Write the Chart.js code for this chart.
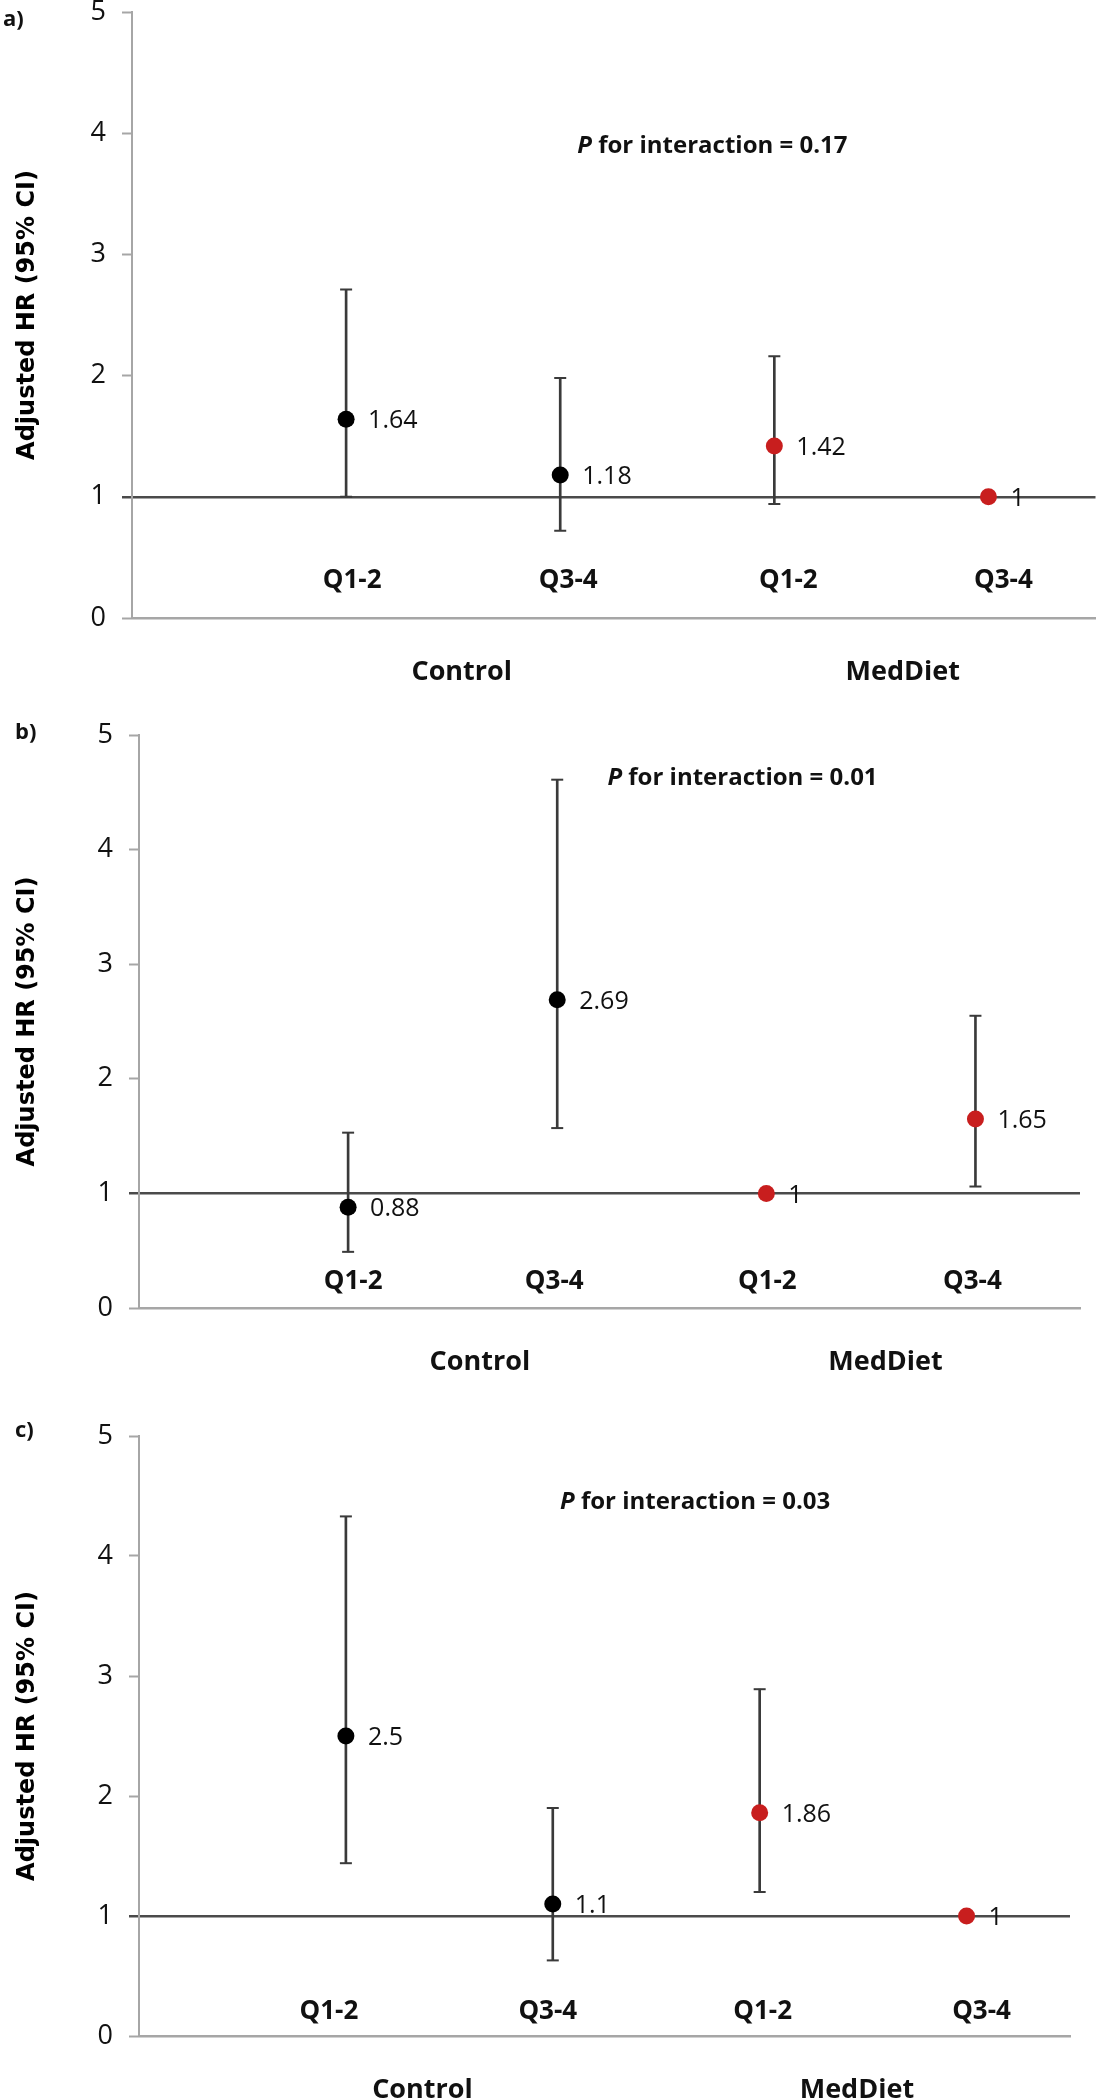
<!DOCTYPE html>
<html>
<head>
<meta charset="utf-8">
<script src="https://cdn.jsdelivr.net/npm/chart.js@4.4.1/dist/chart.umd.min.js"></script>
<style>
  html, body { margin: 0; padding: 0; background: #ffffff; }
  body { width: 1104px; height: 2100px; position: relative; overflow: hidden; }
  .panel { position: absolute; left: 0; width: 1104px; height: 700px; }
  canvas { display: block; }
</style>
</head>
<body>
<div class="panel" style="top:0px"><canvas id="ca" width="1104" height="700"></canvas></div>
<div class="panel" style="top:700px"><canvas id="cb" width="1104" height="700"></canvas></div>
<div class="panel" style="top:1400px"><canvas id="cc" width="1104" height="700"></canvas></div>
<script>
// ---------------- data ----------------
const categories = ['Q1-2', 'Q3-4', 'Q1-2', 'Q3-4'];
const groups = ['Control', 'MedDiet'];
const groupOfCategory = [0, 0, 1, 1];
const yTicks = [0, 1, 2, 3, 4, 5];
const yTitle = 'Adjusted HR (95% CI)';

// panel a
const hrA = [1.64, 1.18, 1.42, 1];
const lowA = [1.00, 0.72, 0.94, null];
const highA = [2.71, 1.98, 2.16, null];
const pA = '0.17';

// panel b
const hrB = [0.88, 2.69, 1, 1.65];
const lowB = [0.49, 1.57, null, 1.06];
const highB = [1.53, 4.61, null, 2.55];
const pB = '0.01';

// panel c
const hrC = [2.5, 1.1, 1.86, 1];
const lowC = [1.44, 0.63, 1.20, null];
const highC = [4.33, 1.90, 2.89, null];
const pC = '0.03';

// ---------------- styles / layout ----------------
const groupColors = ['#000000', '#c81e1e'];
const barColor = '#3a3a3a';
const axisColor = '#a6a6a6';
const refColor = '#4a4a4a';
const FONT = "'Open Sans', 'Noto Sans', sans-serif";

const panels = [
  { id: 'ca', letter: 'a)', hr: hrA, low: lowA, high: highA, p: pA,
    area: { left: 132, top: 12, right: 1100, bottom: 618 },
    pPos: [2.08, 3.89], qShift: [6, 8, 14, 15], qRaise: 37, groupX: [1.54, 3.6],
    letterPos: [3, 20] },
  { id: 'cb', letter: 'b)', hr: hrB, low: lowB, high: highB, p: pB,
    area: { left: 139, top: 35, right: 1080, bottom: 608 },
    pPos: [2.24, 4.62], qShift: [5, -3, 1, -3], qRaise: 26, groupX: [1.63, 3.57],
    letterPos: [15, 33] },
  { id: 'cc', letter: 'c)', hr: hrC, low: lowC, high: highC, p: pC,
    area: { left: 139, top: 36, right: 1070, bottom: 636 },
    pPos: [2.035, 4.45], qShift: [-17, -5, 3, 15], qRaise: 24, groupX: [1.37, 3.47],
    letterPos: [15, 31] }
];

const annotate = {
  id: 'annotate',
  afterDatasetsDraw(chart, args, opts) {
    const ctx = chart.ctx;
    const cfg = opts.cfg;
    const xs = chart.scales.x, ys = chart.scales.y;
    const area = chart.chartArea;
    ctx.save();
    // value labels next to the points
    const meta = chart.getDatasetMeta(2);
    ctx.fillStyle = '#111';
    ctx.font = '25px ' + FONT;
    ctx.textAlign = 'left';
    ctx.textBaseline = 'middle';
    meta.data.forEach((el, i) => {
      ctx.fillText(String(cfg.hr[i]), el.x + 22, el.y + 2);
    });
    // category labels inside the plot
    ctx.font = 'bold 26px ' + FONT;
    ctx.textAlign = 'center';
    categories.forEach((c, i) => {
      ctx.fillText(c, xs.getPixelForValue(i + 1) + cfg.qShift[i], area.bottom - cfg.qRaise);
    });
    // group labels below the axis
    ctx.font = 'bold 27px ' + FONT;
    groups.forEach((g, i) => {
      ctx.fillText(g, xs.getPixelForValue(cfg.groupX[i]), area.bottom + 54);
    });
    // P for interaction
    const px = xs.getPixelForValue(cfg.pPos[0]);
    const py = ys.getPixelForValue(cfg.pPos[1]);
    ctx.textAlign = 'left';
    ctx.font = 'italic bold 24px ' + FONT;
    ctx.fillText('P', px, py);
    const w = ctx.measureText('P').width;
    ctx.font = 'bold 24px ' + FONT;
    ctx.fillText(' for interaction = ' + cfg.p, px + w, py);
    // panel letter
    ctx.font = 'bold 22px ' + FONT;
    ctx.fillText(cfg.letter, cfg.letterPos[0], cfg.letterPos[1]);
    ctx.restore();
  }
};

panels.forEach(cfg => {
  const idx = categories.map((_, i) => i + 1);
  const barData = [];
  const capData = [];
  idx.forEach((x, i) => {
    if (cfg.low[i] != null && cfg.high[i] != null) {
      barData.push({ x: x, y: [cfg.low[i], cfg.high[i]] });
      capData.push({ x: x, y: cfg.low[i] });
      capData.push({ x: x, y: cfg.high[i] });
    }
  });
  const pointData = idx.map((x, i) => ({ x: x, y: cfg.hr[i] }));
  const a = cfg.area;

  new Chart(document.getElementById(cfg.id), {
    type: 'scatter',
    data: {
      datasets: [
        { type: 'bar', data: barData, backgroundColor: barColor, borderWidth: 0,
          barThickness: 2, grouped: false, order: 3 },
        { type: 'scatter', data: capData, pointStyle: 'line', pointRadius: 6,
          pointBorderColor: barColor, borderColor: barColor, pointBorderWidth: 2,
          borderWidth: 2, order: 2 },
        { type: 'scatter', data: pointData, pointRadius: 8.5, pointHoverRadius: 8.5,
          pointBackgroundColor: groupOfCategory.map(g => groupColors[g]),
          pointBorderWidth: 0, borderWidth: 0, order: 1 }
      ]
    },
    options: {
      responsive: false,
      maintainAspectRatio: false,
      animation: false,
      devicePixelRatio: 1,
      events: [],
      layout: { padding: { left: 0, top: a.top, right: 1104 - a.right, bottom: 700 - a.bottom } },
      plugins: {
        legend: { display: false },
        tooltip: { enabled: false },
        annotate: { cfg: cfg }
      },
      scales: {
        x: {
          type: 'linear', min: 0, max: categories.length + 0.5, offset: false,
          ticks: { display: false },
          grid: { display: false, drawTicks: false },
          border: { display: true, color: axisColor, width: 2.5 },
          afterFit(s) { s.height = 0; s.paddingLeft = 0; s.paddingRight = 0; }
        },
        y: {
          type: 'linear', min: yTicks[0], max: yTicks[yTicks.length - 1],
          afterBuildTicks(s) { s.ticks = yTicks.map(v => ({ value: v })); },
          ticks: { color: '#111', padding: 16, font: { family: FONT, size: 27 } },
          grid: {
            drawOnChartArea: true,
            drawTicks: true,
            tickLength: 10,
            color: c => (c.tick && c.tick.value === 1) ? refColor : 'rgba(0,0,0,0)',
            lineWidth: c => (c.tick && c.tick.value === 1) ? 2.5 : 1,
            tickColor: c => (c.tick && c.tick.value === 1) ? refColor : axisColor,
            tickWidth: c => (c.tick && c.tick.value === 1) ? 2.5 : 2
          },
          border: { display: true, color: axisColor, width: 2 },
          title: {
            display: true, text: yTitle, color: '#000',
            font: { family: "'DejaVu Sans', sans-serif", size: 24, weight: 'bold' },
            padding: { top: 13, bottom: 0 }
          },
          afterFit(s) { s.width = a.left; s.paddingTop = 0; s.paddingBottom = 0; }
        }
      }
    },
    plugins: [annotate]
  });
});
</script>
</body>
</html>
